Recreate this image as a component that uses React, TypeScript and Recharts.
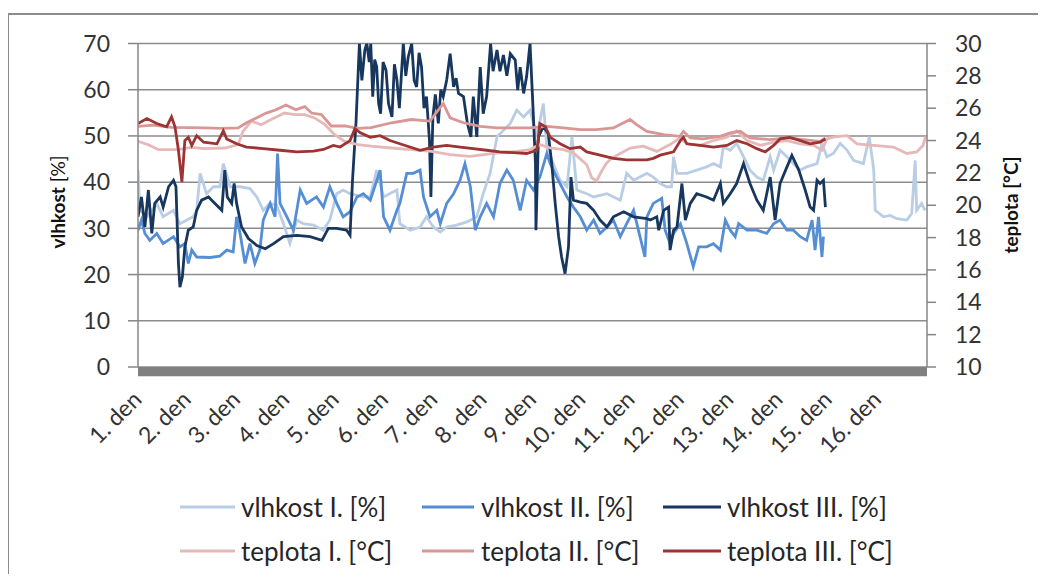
import React from 'react';
import { LineChart, Line, XAxis, YAxis, CartesianGrid, ReferenceArea, Legend } from 'recharts';

const FONT = "Lato, 'Open Sans', sans-serif";

const dayLabels = ['1. den', '2. den', '3. den', '4. den', '5. den', '6. den', '7. den', '8. den', '9. den', '10. den', '11. den', '12. den', '13. den', '14. den', '15. den', '16. den'];
const dayTicks = [0, 1, 2, 3, 4, 5, 6, 7, 8, 9, 10, 11, 12, 13, 14, 15];
const humTicks = [0, 10, 20, 30, 40, 50, 60, 70];
const tempTicks = [10, 12, 14, 16, 18, 20, 22, 24, 26, 28, 30];

// [day, vlhkost %]
const vlhkostI: [number, number][] = [
  [0, 42.6], [0.04, 33.9], [0.18, 32.5], [0.38, 35.4], [0.51, 32.5], [0.72, 33.9], [0.85, 31.0], [0.99, 31.8], [1.12, 32.5], [1.19, 33.9],
  [1.26, 41.9], [1.39, 37.5], [1.53, 39.0], [1.66, 39.0], [1.73, 44.0], [1.87, 39.0], [2.07, 39.0], [2.27, 38.6], [2.41, 36.8], [2.54, 33.9],
  [2.68, 35.4], [2.81, 35.0], [2.95, 31.0], [3.08, 26.7], [3.22, 31.8], [3.35, 31.0], [3.56, 30.7], [3.76, 29.6], [3.89, 31.8], [4.03, 37.5],
  [4.16, 38.3], [4.30, 37.5], [4.57, 36.8], [4.71, 36.8], [4.84, 42.6], [4.98, 36.8], [5.25, 38.3], [5.31, 31.0], [5.52, 29.6], [5.72, 30.3],
  [5.85, 32.5], [5.99, 30.3], [6.13, 29.2], [6.26, 30.3], [6.46, 30.7], [6.67, 31.4], [6.87, 32.5], [7.00, 37.5], [7.14, 41.9], [7.28, 49.8],
  [7.41, 51.2], [7.55, 52.7], [7.68, 55.6], [7.82, 54.1], [7.95, 55.6], [8.09, 49.8], [8.22, 57.0], [8.29, 47.6], [8.42, 44.0], [8.56, 40.4],
  [8.70, 39.0], [8.80, 49.8], [8.90, 38.3], [9.10, 37.5], [9.24, 36.8], [9.51, 37.5], [9.78, 36.1], [9.91, 41.9], [10.05, 40.4], [10.32, 41.9],
  [10.45, 41.1], [10.59, 39.7], [10.72, 39.0], [10.82, 39.0], [10.86, 45.5], [10.93, 41.9], [11.13, 41.9], [11.33, 42.6], [11.53, 43.3], [11.67, 44.0],
  [11.81, 43.3], [11.87, 47.6], [12.01, 46.9], [12.14, 48.4], [12.28, 45.5], [12.41, 42.6], [12.55, 41.1], [12.68, 40.4], [12.82, 45.5], [12.89, 42.6],
  [13.02, 46.9], [13.16, 45.5], [13.29, 44.0], [13.43, 42.6], [13.56, 43.3], [13.77, 44.0], [13.87, 48.4], [13.97, 45.5], [14.10, 46.2], [14.24, 48.4],
  [14.38, 46.9], [14.51, 44.7], [14.71, 44.0], [14.83, 49.8], [14.92, 42.6], [14.95, 33.9], [15.12, 32.5], [15.25, 32.8], [15.39, 32.1], [15.59, 31.8],
  [15.69, 33.2], [15.76, 44.7], [15.79, 33.9], [15.89, 35.4], [15.96, 33.9],
];

const vlhkostII: [number, number][] = [
  [0, 29.6], [0.07, 31.8], [0.14, 28.9], [0.24, 27.4], [0.38, 28.9], [0.51, 26.7], [0.72, 28.2], [0.85, 26.0], [0.95, 26.7], [1.02, 22.4],
  [1.09, 25.3], [1.19, 23.8], [1.46, 23.7], [1.66, 24.0], [1.80, 25.3], [1.93, 24.9], [2.00, 32.5], [2.07, 28.9], [2.17, 22.4], [2.27, 26.7],
  [2.37, 22.4], [2.47, 25.3], [2.54, 31.8], [2.68, 35.4], [2.78, 32.5], [2.83, 46.2], [2.88, 35.4], [3.02, 32.5], [3.15, 29.6], [3.29, 38.3],
  [3.42, 35.4], [3.62, 36.8], [3.76, 34.6], [3.89, 39.0], [4.03, 35.4], [4.16, 32.5], [4.30, 33.6], [4.44, 36.8], [4.57, 37.5], [4.71, 36.1],
  [4.91, 42.6], [4.98, 32.5], [5.11, 29.6], [5.25, 33.9], [5.31, 35.4], [5.45, 41.9], [5.58, 41.9], [5.72, 42.6], [5.79, 36.8], [5.92, 32.5],
  [6.06, 33.9], [6.13, 31.0], [6.26, 35.4], [6.40, 37.5], [6.53, 40.4], [6.63, 44.0], [6.74, 39.0], [6.84, 29.6], [6.94, 32.5], [7.07, 35.4],
  [7.21, 32.5], [7.34, 39.7], [7.48, 42.6], [7.61, 40.4], [7.75, 33.9], [7.88, 40.4], [8.02, 38.3], [8.15, 41.1], [8.29, 46.2], [8.36, 44.0],
  [8.49, 41.1], [8.70, 36.8], [8.83, 34.6], [8.97, 32.5], [9.10, 29.6], [9.24, 31.8], [9.37, 28.9], [9.51, 30.3], [9.64, 31.8], [9.78, 28.2],
  [9.91, 31.0], [10.05, 33.9], [10.18, 28.2], [10.28, 23.8], [10.32, 32.5], [10.45, 35.4], [10.62, 36.5], [10.69, 29.6], [10.79, 26.7], [10.86, 28.9],
  [11.00, 31.0], [11.13, 26.7], [11.26, 21.7], [11.37, 26.0], [11.53, 26.0], [11.67, 26.7], [11.81, 25.3], [11.91, 31.8], [12.01, 29.6], [12.11, 28.2],
  [12.18, 31.0], [12.35, 29.6], [12.55, 29.6], [12.75, 28.9], [12.89, 31.0], [13.02, 31.8], [13.16, 29.6], [13.29, 29.6], [13.43, 28.2], [13.56, 27.4],
  [13.67, 31.8], [13.73, 25.3], [13.80, 32.5], [13.87, 23.8], [13.90, 28.2],
];

const vlhkostIII: [number, number][] = [
  [0, 32.5], [0.07, 36.8], [0.14, 30.3], [0.21, 38.3], [0.28, 28.9], [0.34, 35.4], [0.45, 36.8], [0.51, 34.6], [0.62, 39.0], [0.72, 40.4],
  [0.77, 39.0], [0.82, 22.4], [0.85, 17.3], [0.90, 19.5], [0.95, 26.0], [1.02, 29.6], [1.12, 30.3], [1.19, 33.9], [1.29, 36.1], [1.43, 36.8],
  [1.56, 35.4], [1.70, 33.9], [1.76, 42.6], [1.81, 36.8], [1.90, 35.4], [1.95, 39.7], [2.00, 35.4], [2.10, 30.3], [2.24, 27.8], [2.41, 26.3],
  [2.58, 25.6], [2.75, 26.7], [2.95, 28.2], [3.22, 28.5], [3.49, 28.2], [3.73, 27.4], [3.86, 30.0], [4.03, 30.0], [4.23, 29.6], [4.30, 28.5],
  [4.35, 40.4], [4.42, 52.7], [4.49, 70], [4.54, 62.0], [4.60, 68.6], [4.64, 70], [4.69, 66.0], [4.72, 70], [4.76, 58.5], [4.80, 66.5],
  [4.84, 65.0], [4.88, 57.0], [4.92, 54.8], [4.97, 66.0], [5.03, 64.2], [5.08, 57.0], [5.15, 54.1], [5.20, 65.5], [5.25, 62.1], [5.30, 56.0],
  [5.38, 70], [5.43, 63.0], [5.48, 67.1], [5.55, 70], [5.60, 62.0], [5.65, 60.6], [5.70, 68.0], [5.75, 64.9], [5.80, 56.0], [5.85, 58.5],
  [5.91, 49.1], [5.94, 36.8], [5.98, 54.1], [6.03, 59.0], [6.09, 52.7], [6.14, 60.0], [6.19, 58.5], [6.26, 62.1], [6.33, 67.8], [6.40, 60.6],
  [6.45, 62.5], [6.50, 59.2], [6.60, 58.5], [6.68, 52.7], [6.75, 49.8], [6.80, 58.5], [6.87, 49.8], [6.94, 64.9], [7.00, 54.8], [7.07, 58.5],
  [7.15, 70], [7.20, 64.0], [7.28, 68.6], [7.34, 64.0], [7.41, 67.5], [7.48, 63.0], [7.55, 67.8], [7.65, 66.4], [7.70, 59.9], [7.75, 64.9],
  [7.82, 59.2], [7.88, 62.8], [7.95, 70], [8.00, 58.5], [8.06, 44.0], [8.07, 29.6], [8.12, 49.8], [8.22, 52.0], [8.32, 50.5], [8.39, 44.0],
  [8.46, 35.4], [8.53, 28.2], [8.59, 23.8], [8.66, 20.2], [8.73, 26.0], [8.78, 41.1], [8.83, 36.1], [8.97, 35.7], [9.10, 35.4], [9.24, 33.9],
  [9.37, 31.8], [9.51, 30.3], [9.64, 32.5], [9.85, 33.6], [10.05, 32.5], [10.32, 32.1], [10.39, 31.8], [10.52, 32.5], [10.56, 29.6], [10.66, 33.9],
  [10.76, 34.6], [10.79, 25.3], [10.86, 29.6], [10.93, 30.3], [11.03, 39.7], [11.10, 31.8], [11.20, 35.4], [11.33, 37.5], [11.53, 36.8], [11.67, 36.1],
  [11.81, 39.7], [11.87, 35.4], [12.01, 37.5], [12.14, 39.7], [12.28, 44.0], [12.41, 39.7], [12.55, 36.1], [12.68, 33.9], [12.82, 41.1], [12.92, 31.8],
  [13.02, 39.7], [13.16, 43.3], [13.26, 45.8], [13.40, 42.6], [13.53, 38.3], [13.63, 34.6], [13.70, 33.9], [13.77, 40.4], [13.83, 39.7], [13.90, 40.4],
  [13.94, 34.6],
];

// [day, teplota °C]
const teplotaI: [number, number][] = [
  [0, 23.95], [0.2, 23.75], [0.41, 23.44], [0.81, 23.44], [1.08, 23.58], [1.35, 23.5], [1.76, 23.54], [2.03, 23.75], [2.13, 24.57], [2.3, 25.2],
  [2.5, 24.98], [2.7, 25.3], [2.97, 25.7], [3.18, 25.6], [3.38, 25.6], [3.58, 25.4], [3.79, 24.98], [3.99, 24.36], [4.19, 23.95], [4.46, 23.75],
  [4.73, 23.65], [5.14, 23.54], [5.54, 23.44], [5.95, 23.33], [6.33, 23.13], [6.73, 23.02], [7.28, 23.23], [7.68, 23.33], [7.95, 23.44], [8.15, 23.75],
  [8.36, 23.54], [8.63, 23.44], [8.83, 23.23], [9.03, 22.7], [9.1, 22.5], [9.2, 21.7], [9.3, 21.5], [9.4, 22.1], [9.5, 22.6], [9.6, 22.9],
  [9.98, 23.54], [10.25, 23.65], [10.52, 23.33], [10.79, 23.75], [10.99, 24.16], [11.13, 23.8], [11.4, 23.7], [11.67, 24.0], [11.94, 24.2], [12.14, 24.6],
  [12.35, 24.0], [12.62, 23.7], [12.89, 23.9], [13.16, 24.0], [13.43, 23.8], [13.7, 23.7], [13.87, 23.4], [13.97, 24.1], [14.17, 24.25], [14.38, 24.3],
  [14.58, 23.8], [14.92, 23.7], [15.32, 23.6], [15.59, 23.2], [15.79, 23.3], [15.92, 23.7], [15.97, 24.25],
];

const teplotaII: [number, number][] = [
  [0, 24.88], [0.3, 24.95], [0.68, 24.82], [1.0, 24.8], [1.35, 24.78], [1.7, 24.75], [2.03, 24.78], [2.2, 25.1], [2.4, 25.4], [2.6, 25.7],
  [2.8, 25.9], [3.0, 26.2], [3.2, 25.9], [3.38, 26.1], [3.52, 25.7], [3.72, 25.6], [3.92, 24.9], [4.19, 24.9], [4.46, 24.75], [4.73, 24.8],
  [5.14, 25.1], [5.54, 25.3], [5.92, 25.2], [6.19, 26.3], [6.33, 25.4], [6.6, 25.1], [6.94, 24.88], [7.28, 24.78], [7.61, 24.78], [7.95, 24.78],
  [8.29, 24.88], [8.63, 24.78], [8.97, 24.67], [9.3, 24.67], [9.64, 24.78], [9.98, 25.3], [10.11, 24.98], [10.32, 24.57], [10.66, 24.36], [10.99, 24.26],
  [11.06, 24.57], [11.2, 24.16], [11.47, 24.1], [11.8, 24.26], [12.01, 24.47], [12.21, 24.57], [12.41, 24.16], [12.82, 24.06], [13.16, 24.16], [13.5, 24.06],
  [13.83, 23.95], [13.94, 24.16],
];

const teplotaIII: [number, number][] = [
  [0, 25.05], [0.18, 25.36], [0.38, 25.05], [0.58, 24.85], [0.68, 25.46], [0.75, 24.85], [0.82, 23.4], [0.89, 21.44], [0.95, 24.0], [1.02, 24.2],
  [1.09, 23.7], [1.19, 24.3], [1.33, 23.9], [1.6, 23.8], [1.73, 24.6], [1.8, 24.1], [2.0, 23.8], [2.2, 23.6], [2.54, 23.5], [2.88, 23.4],
  [3.22, 23.3], [3.56, 23.35], [3.76, 23.45], [3.96, 23.7], [4.1, 23.6], [4.3, 24.0], [4.4, 24.75], [4.5, 24.5], [4.71, 24.2], [4.91, 24.3],
  [5.11, 24.0], [5.31, 23.8], [5.72, 23.4], [5.99, 23.6], [6.26, 23.7], [6.53, 23.6], [6.8, 23.5], [7.07, 23.4], [7.34, 23.3], [7.61, 23.25],
  [7.88, 23.2], [8.09, 23.4], [8.15, 25.05], [8.26, 24.85], [8.36, 24.2], [8.56, 23.8], [8.76, 23.5], [8.97, 23.6], [9.1, 23.3], [9.37, 23.1],
  [9.64, 22.9], [9.91, 22.8], [10.32, 22.8], [10.45, 22.9], [10.59, 23.1], [10.86, 23.3], [11.0, 24.0], [11.06, 24.2], [11.13, 23.8], [11.4, 23.7],
  [11.67, 23.6], [11.94, 23.7], [12.14, 24.0], [12.35, 23.8], [12.55, 23.5], [12.72, 23.3], [12.89, 23.7], [13.02, 24.1], [13.22, 24.2], [13.43, 24.0],
  [13.63, 23.8], [13.83, 23.9], [13.94, 24.1],
];

const seriesNames = ['vlhkost I. [%]', 'vlhkost II. [%]', 'vlhkost III. [%]', 'teplota I. [°C]', 'teplota II. [°C]', 'teplota III. [°C]'];
const seriesColors = ['#b9cde5', '#558ed5', '#17375e', '#e6b9b8', '#d99694', '#9b3432'];
const seriesData = [vlhkostI, vlhkostII, vlhkostIII, teplotaI, teplotaII, teplotaIII];
const seriesAxis = ['left', 'left', 'left', 'right', 'right', 'right'];

const toPoints = (arr: [number, number][]) => arr.map(([d, v]) => ({ d, v }));

const DayTick = (props: any) => {
  const { x, y, payload } = props;
  const tx = x + 5;
  const ty = y + 34;
  return (
    <text x={tx} y={ty} transform={`rotate(-45 ${tx} ${ty})`} textAnchor="end" fontSize={23} fill="#333" fontFamily={FONT}>
      {dayLabels[payload.value]}
    </text>
  );
};

const LeftTitle = (props: any) => {
  const vb = props.viewBox || { x: 0, y: 0, width: 0, height: 0 };
  const cx = vb.x + 49;
  const cy = 194;
  return (
    <text x={cx} y={cy} transform={`rotate(-90 ${cx} ${cy})`} textAnchor="middle" dominantBaseline="central" fontSize={19} fill="#111" fontFamily={FONT}>
      <tspan fontWeight="bold">vlhkost</tspan>
      <tspan> [%]</tspan>
    </text>
  );
};

const RightTitle = (props: any) => {
  const vb = props.viewBox || { x: 0, y: 0, width: 0, height: 0 };
  const cx = vb.x + 83;
  const cy = 197;
  return (
    <text x={cx} y={cy} transform={`rotate(-90 ${cx} ${cy})`} textAnchor="middle" dominantBaseline="central" fontSize={19} fontWeight="bold" fill="#111" fontFamily={FONT}>
      teplota [°C]
    </text>
  );
};

const legendRows = [29, 73];
const legendLineX = [[172, 227], [414, 466], [655, 713]];
const legendTextX = [233, 473, 719];

const LegendBox = () => (
  <svg width={1030} height={100} style={{ display: 'block' }}>
    {seriesNames.map((name, i) => {
      const row = Math.floor(i / 3);
      const col = i % 3;
      const cy = legendRows[row];
      return (
        <g key={name}>
          <line x1={legendLineX[col][0]} x2={legendLineX[col][1]} y1={cy} y2={cy} stroke={seriesColors[i]} strokeWidth={3} />
          <text x={legendTextX[col]} y={cy} dominantBaseline="central" fontSize={26} fill="#262626" fontFamily={FONT}>
            {name}
          </text>
        </g>
      );
    })}
  </svg>
);

export default function App() {
  const tickStyle = { fontSize: 23, fill: '#333', fontFamily: FONT };
  return (
    <div style={{ position: 'relative', width: 1030, height: 566 }}>
      <style>{`html, body { overflow: hidden; }`}</style>
      <div
        style={{
          position: 'absolute',
          left: -1,
          top: 5,
          width: 1034,
          height: 600,
          border: '2px solid #8c8c8c',
          boxSizing: 'border-box',
          pointerEvents: 'none',
        }}
      />
      <LineChart width={1030} height={566} margin={{ top: 35.5, right: 0, bottom: 147, left: 0 }}>
        <CartesianGrid yAxisId="left" vertical={false} stroke="#8c8c8c" strokeWidth={1.5} />
        <XAxis
          type="number"
          dataKey="d"
          domain={[0, 16]}
          ticks={dayTicks}
          interval={0}
          tick={<DayTick />}
          axisLine={false}
          tickLine={false}
          tickSize={0}
          tickMargin={0}
          height={60}
          allowDataOverflow
        />
        <YAxis
          yAxisId="left"
          orientation="left"
          domain={[0, 70]}
          ticks={humTicks}
          width={130}
          tickSize={10}
          tickMargin={18}
          tick={tickStyle}
          axisLine={{ stroke: '#868686', strokeWidth: 1.5 }}
          tickLine={{ stroke: '#868686', strokeWidth: 1.5 }}
          allowDataOverflow
          label={<LeftTitle />}
        />
        <YAxis
          yAxisId="right"
          orientation="right"
          domain={[10, 30]}
          ticks={tempTicks}
          width={111}
          tickSize={9}
          tickMargin={19}
          tick={tickStyle}
          axisLine={{ stroke: '#868686', strokeWidth: 1.5 }}
          tickLine={{ stroke: '#868686', strokeWidth: 1.5 }}
          allowDataOverflow
          label={<RightTitle />}
        />
        <ReferenceArea yAxisId="left" y1={-2} y2={0} fill="#808080" fillOpacity={1} stroke="none" ifOverflow="visible" />
        {seriesData.map((arr, i) => (
          <Line
            key={seriesNames[i]}
            data={toPoints(arr)}
            dataKey="v"
            name={seriesNames[i]}
            yAxisId={seriesAxis[i]}
            type="linear"
            stroke={seriesColors[i]}
            strokeWidth={2.8}
            dot={false}
            activeDot={false}
            isAnimationActive={false}
          />
        ))}
        <Legend
          layout="vertical"
          verticalAlign="middle"
          align="center"
          wrapperStyle={{ left: 0, top: 470, width: 1030, height: 100 }}
          content={<LegendBox />}
        />
      </LineChart>
    </div>
  );
}
